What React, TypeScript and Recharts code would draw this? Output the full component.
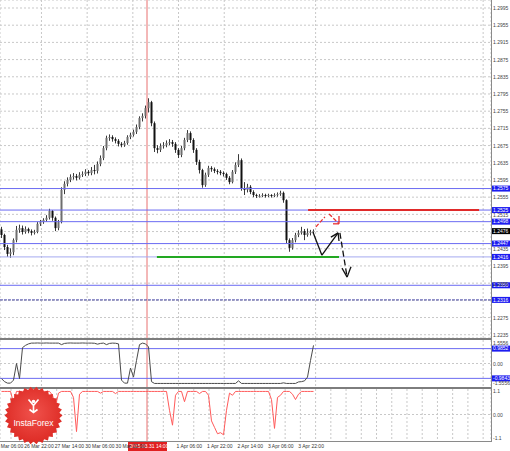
import React from 'react';
import { ComposedChart, Bar, Line, XAxis, YAxis, CartesianGrid, ReferenceLine } from 'recharts';

// hourly-ish candles, one slot = 3px
const firstOpen = 1.248;
const closes = [
  1.2467, 1.2439, 1.2423, 1.2427, 1.2455, 1.2479, 1.2483, 1.2474, 1.2481, 1.2476,
  1.2472, 1.2474, 1.2493, 1.2497, 1.2502, 1.2507, 1.2523, 1.2507, 1.2483, 1.2497,
  1.2572, 1.2586, 1.2595, 1.2602, 1.2604, 1.26, 1.2607, 1.2609, 1.2614, 1.2611,
  1.2618, 1.2616, 1.2632, 1.2646, 1.2669, 1.2693, 1.2695, 1.269, 1.2686, 1.2679,
  1.2676, 1.2681, 1.2695, 1.27, 1.2707, 1.2718, 1.2739, 1.2744, 1.2762, 1.2776,
  1.2727, 1.2669, 1.2665, 1.2674, 1.2676, 1.2681, 1.2683, 1.2679, 1.2665, 1.2653,
  1.2669, 1.2688, 1.2704, 1.2688, 1.2665, 1.2637, 1.2618, 1.2583, 1.2607, 1.2623,
  1.262, 1.2616, 1.2614, 1.2611, 1.2609, 1.26, 1.259, 1.2614, 1.263, 1.2641,
  1.2576, 1.2572, 1.2579, 1.2567, 1.256, 1.2558, 1.2558, 1.256, 1.2558, 1.256,
  1.2558, 1.256, 1.2562, 1.2565, 1.2548, 1.2455, 1.2437, 1.2455, 1.2467, 1.2472,
  1.2476, 1.2467, 1.2472, 1.2474, 1.2476,
];
const highs = [
  1.2486, 1.247, 1.2444, 1.2436, 1.2459, 1.2488, 1.2491, 1.2489, 1.2487, 1.2484,
  1.248, 1.2479, 1.2497, 1.2502, 1.2506, 1.2513, 1.2528, 1.2525, 1.251, 1.2502,
  1.2578, 1.2592, 1.2601, 1.2608, 1.2611, 1.2609, 1.2613, 1.2615, 1.262, 1.2618,
  1.2625, 1.263, 1.2638, 1.2652, 1.2674, 1.2698, 1.2701, 1.2699, 1.2694, 1.269,
  1.2683, 1.2686, 1.2699, 1.2705, 1.2712, 1.2724, 1.2743, 1.275, 1.2768, 1.2785,
  1.2779, 1.2731, 1.2676, 1.268, 1.2683, 1.2687, 1.269, 1.2688, 1.2683, 1.2669,
  1.2674, 1.2693, 1.2711, 1.2708, 1.2692, 1.2669, 1.2642, 1.2621, 1.2612, 1.2628,
  1.2627, 1.2624, 1.262, 1.2618, 1.2615, 1.2612, 1.2604, 1.2618, 1.2636, 1.2655,
  1.2645, 1.259, 1.2586, 1.2583, 1.2571, 1.2563, 1.2562, 1.2564, 1.2563, 1.2563,
  1.2562, 1.2564, 1.2566, 1.257, 1.2568, 1.255, 1.2459, 1.246, 1.2472, 1.2478,
  1.2486, 1.2481, 1.2482, 1.2479, 1.248,
];
const lows = [
  1.246, 1.2432, 1.2416, 1.2414, 1.242, 1.245, 1.2472, 1.2468, 1.247, 1.2471,
  1.2466, 1.2468, 1.2471, 1.2488, 1.2493, 1.2498, 1.2503, 1.25, 1.2476, 1.2478,
  1.2494, 1.2562, 1.258, 1.259, 1.2596, 1.2594, 1.2596, 1.2602, 1.2604, 1.2605,
  1.2606, 1.2608, 1.261, 1.2627, 1.2641, 1.2664, 1.2686, 1.2684, 1.268, 1.2673,
  1.2671, 1.2672, 1.2677, 1.269, 1.2696, 1.2702, 1.2713, 1.2731, 1.2738, 1.2752,
  1.272, 1.266, 1.2657, 1.266, 1.2668, 1.2671, 1.2676, 1.2672, 1.2658, 1.2646,
  1.2648, 1.2664, 1.2683, 1.2681, 1.2658, 1.263, 1.261, 1.2577, 1.2579, 1.2602,
  1.2614, 1.2611, 1.2608, 1.2606, 1.2603, 1.2595, 1.2585, 1.2587, 1.2609, 1.2625,
  1.257, 1.256, 1.2566, 1.2562, 1.2555, 1.2553, 1.2554, 1.2555, 1.2554, 1.2555,
  1.2554, 1.2555, 1.2556, 1.2558, 1.2542, 1.2448, 1.2428, 1.2433, 1.245, 1.2462,
  1.2468, 1.2455, 1.2463, 1.2466, 1.247,
];

// upper oscillator (gray)
const oscA = [
  -1.0, -1.2, -1.3, -1.3, -1.1, 0.0, -1.0, 1.05, 1.2, 1.3,
  1.35, 1.35, 1.36, 1.35, 1.35, 1.36, 1.35, 1.35, 1.35, 1.35,
  1.25, 1.33, 1.35, 1.36, 1.35, 1.35, 1.35, 1.36, 1.35, 1.35,
  1.35, 1.34, 1.28, 1.33, 1.35, 1.25, 1.33, 1.35, 1.34, 1.3,
  -1.1, -1.3, -1.3, -0.3, -0.9, 0.2, 1.25, 1.35, 1.3, 1.1,
  -1.2, -1.32, -1.32, -1.32, -1.32, -1.32, -1.32, -1.32, -1.32, -1.32,
  -1.32, -1.32, -1.32, -1.32, -1.32, -1.32, -1.32, -1.32, -1.32, -1.32,
  -1.32, -1.32, -1.32, -1.32, -1.32, -1.32, -1.32, -1.32, -1.32, -1.15,
  -1.32, -1.32, -1.32, -1.32, -1.32, -1.32, -1.32, -1.32, -1.32, -1.32,
  -1.32, -1.32, -1.32, -1.32, -1.28, -1.32, -1.32, -1.32, -1.32, -1.22,
  -1.2, -1.15, -0.9, 0.2, 1.2,
];
// lower oscillator (red)
const oscB = [
  1.08, 1.08, 1.08, 1.08, 0.55, 1.08, 1.08, 1.08, 1.08, 1.08,
  1.08, 1.08, 1.08, 1.08, 1.08, 1.08, 1.08, 0.9, 0.4, 1.0,
  1.08, 1.08, 1.08, 1.08, 0.8, -0.8, 0.95, 1.08, 1.08, 1.08,
  1.08, 1.08, 1.08, 1.0, 1.08, 1.08, 1.08, 1.08, 0.98, 1.08,
  1.08, 1.08, 1.08, 1.08, 1.08, 1.08, 1.08, 1.08, 1.08, 1.08,
  1.08, 1.08, 1.08, 1.08, 1.08, 1.08, 0.2, -0.5, 0.9, 1.08,
  1.08, 0.6, 1.08, 1.08, 1.08, 1.08, 0.98, 1.08, 1.08, 0.9,
  -0.3, -0.6, -0.9, -0.85, -0.95, 0.2, 1.0, 0.9, 1.08, 1.08,
  1.08, 1.08, 1.08, 1.08, 1.08, 1.08, 1.08, 1.08, 1.08, 1.08,
  0.7, -0.65, 0.8, 0.9, 1.08, 1.08, 1.08, 0.95, 0.7, 0.95,
  1.08, 1.08, 1.08, 1.08, 1.08,
];

const priceTicks = [
  1.2995, 1.2955, 1.2915, 1.2875, 1.2835, 1.2795, 1.2755, 1.2715, 1.2675, 1.2635,
  1.2595, 1.2555, 1.2515, 1.2475, 1.2435, 1.2395, 1.2355, 1.2315, 1.2275, 1.2235,
];
// tick labels that sit under a level box in the reference
const hiddenTicks = [1.2475, 1.2315];
const levels = [1.2575, 1.2525, 1.2498, 1.2447, 1.2416, 1.235, 1.2316];
const lastPrice = 1.2476;
const resistance = 1.2525;
const support = 1.2416;
const oscALevels = [0.9852, -0.9843];
const oscATicks = [1.5556, 0, -1.5556];
const oscBTicks = [1.1, 0, -1.1];
const timeLabels = [
  '26 Mar 06:00', '26 Mar 22:00', '27 Mar 14:00', '30 Mar 06:00', '30 Mar 22:00',
  '', '1 Apr 06:00', '1 Apr 22:00', '2 Apr 14:00', '3 Apr 06:00', '3 Apr 22:00',
];
const crossLabel = '2015.03.31 14:00';
const crossSlot = 48.5;

// hand-drawn forecast arrows, in (slot, price)
const blackPath = [[103.8, 1.2474], [106.8, 1.242], [112.2, 1.2472]];
const blackHead = [[109.8, 1.2462], [112.2, 1.2472], [112.5, 1.2453]];
const downPath = [[112.8, 1.2472], [115.2, 1.2369]];
const downHead = [[113.5, 1.239], [115.2, 1.2369], [116.5, 1.2393]];
const redPath = [[104.8, 1.2486], [107.8, 1.2509]];
const redPath2 = [[109.2, 1.2516], [112.5, 1.2493]];
const redHead = [[110.5, 1.2493], [112.5, 1.2493], [112.5, 1.2511]];

const rows = closes.map((c, i) => ({
  slot: i,
  open: i === 0 ? firstOpen : closes[i - 1],
  close: c,
  high: highs[i],
  low: lows[i],
  range: [lows[i], highs[i]],
  oscA: oscA[i],
  oscB: oscB[i],
}));

const W = 510;
const AXIS_W = 19;
const SLOTS = (W - AXIS_W) / 3;
const xDomain = [-0.5, -0.5 + SLOTS];
// vertical grid every 8 hours (15.23px)
const GRID_PX = 15.23;
const gridSlots = Array.from({ length: 32 }, (_, k) => (11 + GRID_PX * k - 1.5) / 3);

const FONT = '"Liberation Sans", Arial, sans-serif';
const BLUE = '#6b6bf2';
const GRID = '#c8c8c8';
const LABEL_X = W - AXIS_W + 2;

const Candle = (props: any) => {
  const { x, y, width, height, payload } = props;
  if (x == null || payload == null) return null;
  const top = height < 0 ? y + height : y;
  const h = Math.abs(height);
  const span = payload.high - payload.low || 1e-9;
  const py = (p: number) => top + ((payload.high - p) / span) * h;
  const cx = Math.round(x + width / 2) + 0.5;
  const b1 = py(Math.max(payload.open, payload.close));
  const b2 = py(Math.min(payload.open, payload.close));
  const up = payload.close >= payload.open;
  return (
    <g>
      <line x1={cx} x2={cx} y1={top} y2={top + h} stroke="#3a3a3a" strokeWidth={1} />
      <rect x={cx - 1} y={b1} width={2} height={Math.max(1, b2 - b1)} fill={up ? '#6e6e6e' : '#111'} />
    </g>
  );
};

const AxisText = ({ y, payload, fmt, shift, skip }: any) => {
  if (skip && skip.includes(payload.value)) return null;
  return (
    <text x={LABEL_X} y={y + (shift ? shift(payload.value) : 0)} dy={2} fontSize={5} fill="#444" fontFamily={FONT}>
      {fmt(payload.value)}
    </text>
  );
};

const boxLabel = (text: string, fill: string) => (p: any) => {
  const vb = p.viewBox || {};
  const x = (vb.x || 0) + (vb.width || 0) + 1;
  const y = vb.y || 0;
  return (
    <g>
      <rect x={x} y={y - 3} width={18} height={6} fill={fill} />
      <text x={x + 1} y={y + 1.8} fontSize={5} fill="#fff" fontFamily={FONT}>{text}</text>
    </g>
  );
};

const seg = (pts: number[][]) =>
  pts.slice(1).map((p, i) => [
    { x: pts[i][0], y: pts[i][1] },
    { x: p[0], y: p[1] },
  ]);

const TimeTick = ({ x, y, payload }: any) => {
  const k = Math.round((payload.value * 3 + 1.5 - 11) / GRID_PX);
  const ty = y - 1;
  const parts: React.ReactNode[] = [];
  if (k === 0) {
    parts.push(
      <text key="first" x={x - 2 - GRID_PX} y={ty} fontSize={5} fill="#333" fontFamily={FONT}>{timeLabels[0]}</text>
    );
  }
  if (k % 2 === 1) {
    const label = timeLabels[(k + 1) / 2];
    if (label) {
      parts.push(
        <text key="l" x={x - 2} y={ty} fontSize={5} fill="#333" fontFamily={FONT}>{label}</text>
      );
    }
  }
  return <g>{parts}</g>;
};

const Logo = () => {
  const cx = 33.5;
  const cy = 415.5;
  const n = 30;
  const pts: string[] = [];
  for (let i = 0; i < n * 2; i++) {
    const r = i % 2 === 0 ? 29 : 26;
    const a = (Math.PI * i) / n;
    pts.push(`${(cx + r * Math.cos(a)).toFixed(1)},${(cy + r * Math.sin(a)).toFixed(1)}`);
  }
  return (
    <svg width={W} height={451} style={{ position: 'absolute', left: 0, top: 0, pointerEvents: 'none' }}>
      <defs>
        <radialGradient id="lg" cx="50%" cy="45%" r="55%">
          <stop offset="0%" stopColor="#f0524c" />
          <stop offset="100%" stopColor="#dd2a24" />
        </radialGradient>
      </defs>
      <polygon points={pts.join(' ')} fill="url(#lg)" />
      <circle cx={cx} cy={cy - 14} r={1.8} fill="#fff" />
      <path d={`M${cx - 5} ${cy - 16} L${cx} ${cy - 10} L${cx + 5} ${cy - 16} M${cx} ${cy - 10} L${cx} ${cy - 3} M${cx - 4} ${cy - 6} L${cx} ${cy - 3} L${cx + 4} ${cy - 6}`}
        stroke="#fff" strokeWidth={1.6} fill="none" />
      <text x={cx} y={cy + 10} textAnchor="middle" fontSize={8.5} fill="#fff" fontFamily={FONT}>InstaForex</text>
    </svg>
  );
};

export default function App() {
  return (
    <div style={{ position: 'absolute', left: 0, top: 0, width: W, height: 451, background: '#fff', overflow: 'hidden' }}>
      <div style={{ position: 'absolute', left: 0, top: 0 }}>
        <ComposedChart width={W} height={338} data={rows} margin={{ top: 0, right: 0, bottom: 0, left: 0 }}>
          <CartesianGrid stroke={GRID} strokeDasharray="2 2" />
          <XAxis type="number" dataKey="slot" domain={xDomain} ticks={gridSlots} allowDataOverflow hide />
          <YAxis orientation="right" width={AXIS_W} domain={[1.22274, 1.30136]} ticks={priceTicks} allowDataOverflow
            axisLine={false} tickLine={false} interval={0}
            tick={<AxisText fmt={(v: number) => v.toFixed(4)} skip={hiddenTicks} shift={(v: number) => (v === 1.2515 || v === 1.2355 ? 1 : 0)} />} />
          <ReferenceLine x={crossSlot} stroke="#e87070" />
          {levels.map((v, i) => (
            <ReferenceLine key={v} y={v}
              stroke={i === 4 ? '#a5a9f0' : i === 6 ? '#4a4aa8' : BLUE}
              strokeDasharray={i === 6 ? '3 1' : undefined}
              label={boxLabel(v.toFixed(4), '#1c1cf0')} />
          ))}
          <ReferenceLine y={lastPrice} stroke="none" label={boxLabel(lastPrice.toFixed(4), '#000')} />
          <ReferenceLine segment={[{ x: 102.2, y: resistance }, { x: 159.2, y: resistance }]} stroke="#e02a2a" strokeWidth={2} />
          <ReferenceLine segment={[{ x: 51.8, y: support }, { x: 112.5, y: support }]} stroke="#22a822" strokeWidth={2} />
          <Bar dataKey="range" barSize={3} shape={<Candle />} isAnimationActive={false} />
          {seg(blackPath).concat(seg(blackHead)).map((s, i) => (
            <ReferenceLine key={'b' + i} segment={s} stroke="#111" strokeWidth={1.3} />
          ))}
          {seg(downPath).concat(seg(downHead)).map((s, i) => (
            <ReferenceLine key={'d' + i} segment={s} stroke="#111" strokeWidth={1.3} strokeDasharray={i === 0 ? '6 3' : undefined} />
          ))}
          {seg(redPath).concat(seg(redPath2), seg(redHead)).map((s, i) => (
            <ReferenceLine key={'r' + i} segment={s} stroke="#e83030" strokeWidth={1.3} strokeDasharray={i < 2 ? '4 2' : undefined} />
          ))}
        </ComposedChart>
      </div>

      <div style={{ position: 'absolute', left: 0, top: 340 }}>
        <ComposedChart width={W} height={47} data={rows} margin={{ top: 0, right: 0, bottom: 0, left: 0 }}>
          <CartesianGrid stroke={GRID} strokeDasharray="2 2" horizontalValues={[0]} />
          <XAxis type="number" dataKey="slot" domain={xDomain} ticks={gridSlots} allowDataOverflow hide />
          <YAxis orientation="right" width={AXIS_W} domain={[-1.5556, 1.5556]} ticks={oscATicks} allowDataOverflow
            axisLine={false} tickLine={false} interval={0}
            tick={<AxisText fmt={(v: number) => (v === 0 ? '0.00' : v.toFixed(4))} shift={(v: number) => (v > 0 ? 3 : v < 0 ? -4 : 0)} />} />
          <ReferenceLine x={crossSlot} stroke="#e87070" />
          {oscALevels.map((v) => (
            <ReferenceLine key={v} y={v} stroke={BLUE} label={boxLabel(v.toFixed(4), '#1c1cf0')} />
          ))}
          <Line dataKey="oscA" stroke="#4a4a4a" strokeWidth={1} dot={false} type="linear" isAnimationActive={false} />
        </ComposedChart>
      </div>

      <div style={{ position: 'absolute', left: 0, top: 389 }}>
        <ComposedChart width={W} height={63} data={rows} margin={{ top: 0, right: 0, bottom: 0, left: 0 }}>
          <CartesianGrid stroke={GRID} strokeDasharray="2 2" horizontalValues={[0]} />
          <XAxis type="number" dataKey="slot" domain={xDomain} ticks={gridSlots} allowDataOverflow height={11}
            axisLine={false} tickLine={false} interval={0} tick={<TimeTick />} />
          <YAxis orientation="right" width={AXIS_W} domain={[-1.24, 1.194]} ticks={oscBTicks} allowDataOverflow
            axisLine={false} tickLine={false} interval={0}
            tick={<AxisText fmt={(v: number) => (v === 0 ? '0.00' : v.toFixed(1))} />} />
          <ReferenceLine x={crossSlot} stroke="#e87070"
            label={(p: any) => {
              const vb = p.viewBox || {};
              const bx = (vb.x || 0) - 19;
              const by = (vb.y || 0) + (vb.height || 0);
              return (
                <g>
                  <rect x={bx} y={by} width={39} height={10} fill="#e02020" />
                  <text x={bx + 1.5} y={by + 7} fontSize={5} fill="#fff" fontFamily={FONT}>{crossLabel}</text>
                </g>
              );
            }} />
          <Line dataKey="oscB" stroke="#ff5a5a" strokeWidth={1} dot={false} type="linear" isAnimationActive={false} />
        </ComposedChart>
      </div>

      <div style={{ position: 'absolute', left: 0, top: 338, width: W - AXIS_W, height: 2, background: '#7d7d7d' }} />
      <div style={{ position: 'absolute', left: 0, top: 387, width: W - AXIS_W, height: 2, background: '#7d7d7d' }} />
      <div style={{ position: 'absolute', left: 0, top: 441, width: W - AXIS_W + 1, height: 1, background: '#8a8a8a' }} />
      <div style={{ position: 'absolute', left: W - AXIS_W, top: 0, width: 1, height: 442, background: '#8a8a8a' }} />
      <Logo />
    </div>
  );
}
